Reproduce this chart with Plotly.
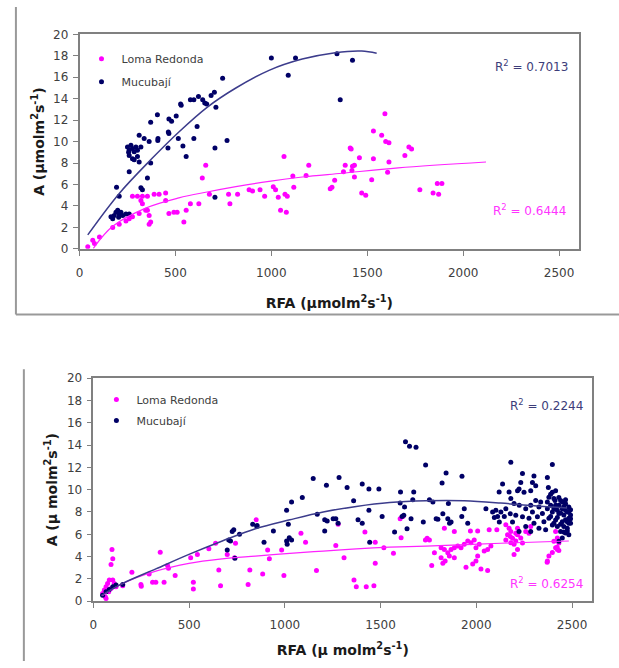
import plotly.graph_objects as go

# ---------------- DATA ----------------
# Top chart
top_mucu_x = [620, 596, 653, 527, 578, 642, 406, 371, 466, 480, 504, 311, 337, 363, 409, 408,
              463, 515, 596, 539, 556, 613, 461, 250, 259, 268, 276, 285, 294, 302, 259, 276,
              285, 302, 311, 320, 256, 259, 354, 371, 320, 328, 193, 207, 164, 181, 190, 199,
              207, 216, 225, 242, 259, 173, 204, 746, 686, 703, 663, 711, 769, 706, 706, 1000,
              1126, 1088, 1342, 1423, 1359, 530, 466]
top_mucu_y = [14.2, 13.9, 13.6, 13.5, 13.9, 13.9, 12.5, 11.8, 12.1, 11.9, 12.4, 10.6, 10.3, 10.0,
              10.3, 10.1, 10.9, 10.3, 10.3, 9.6, 8.6, 11.4, 9.4, 9.5, 9.2, 9.65, 9.35, 9.05, 9.5,
              9.2, 8.7, 8.4, 8.3, 8.6, 8.1, 9.5, 9.0, 7.2, 6.6, 8.0, 5.7, 5.5, 5.75, 4.9, 3.0,
              3.1, 3.4, 3.6, 3.25, 3.4, 3.1, 3.25, 3.25, 2.8, 2.95, 15.9, 14.3, 14.6, 13.5, 13.2,
              10.1, 9.4, 4.8, 17.8, 17.8, 16.2, 18.2, 17.6, 13.9, 13.4, 10.75]

top_loma_x = [43, 69, 104, 78, 173, 207, 242, 259, 276, 311, 345, 363, 276, 302, 328, 354, 389,
              415, 449, 320, 328, 354, 363, 371, 449, 492, 509, 544, 556, 578, 622, 658, 640, 466,
              1066, 1195, 1112, 1181, 1330, 1307, 1117, 677, 777, 824, 884, 902, 941, 965, 1010,
              1022, 1036, 1071, 1083, 784, 1048, 1078,
              1592, 1532, 1575, 1596, 1613, 1411, 1416, 1717, 1731, 1696, 1459, 1532, 1613, 1385,
              1423, 1433, 1376, 1420, 1606, 1316, 1433, 1523, 1471, 1492, 1774, 1843, 1872, 1865,
              1889]
top_loma_y = [0.2, 0.8, 1.1, 0.5, 2.0, 2.3, 2.6, 2.8, 3.0, 3.3, 3.6, 3.1, 4.9, 4.9, 4.9, 4.9, 5.1,
              5.1, 5.2, 4.5, 4.2, 3.6, 2.3, 2.5, 4.5, 3.4, 3.4, 2.5, 3.6, 4.2, 4.2, 7.8, 6.6, 3.3,
              8.6, 7.8, 6.8, 6.85, 6.4, 5.6, 5.75, 5.1, 5.1, 5.1, 5.5, 5.4, 5.5, 4.9, 5.8,
              5.5, 4.8, 5.1, 4.9, 4.2, 3.6, 3.4,
              12.6, 11.0, 10.6, 10.0, 9.9, 9.4, 9.3, 9.5, 9.3, 8.7, 8.5, 8.4, 8.1, 7.8,
              7.7, 7.8, 7.2, 7.3, 7.15, 5.75, 6.7, 6.45, 5.2, 5.0, 5.5, 5.2, 5.1, 6.1,
              6.1]

# trend lines
top_mucu_trend_x = [43, 204, 371, 518, 665, 815, 988, 1161, 1333, 1471, 1549]
top_mucu_trend_y = [1.3, 5.1, 8.3, 10.9, 13.2, 15.0, 16.65, 17.7, 18.3, 18.45, 18.25]
top_loma_trend_x = [72, 173, 345, 518, 665, 815, 988, 1161, 1368, 1661, 2119]
top_loma_trend_y = [0.05, 2.1, 3.8, 4.75, 5.3, 5.8, 6.3, 6.7, 7.05, 7.55, 8.1]

# Bottom chart
bot_mucu_x = [48, 66, 83, 101, 118, 153, 699, 707, 716, 725, 733, 763, 739, 832, 855,
              853, 891, 940, 1009, 1035, 1091, 1018, 1009, 1023, 1035, 1012, 1148, 1169, 1208,
              1221, 1252, 1266, 1278, 1208, 1217, 1283, 1325, 1359, 1382, 1404, 1404, 1439, 1491,
              1439, 1443, 1508, 1573, 1630, 1651, 1685, 1604, 1673, 1668, 1612, 1621, 1659, 1638,
              1723, 1735, 1602, 1625,
              1821, 1842, 1925, 2180, 1755, 1773, 1854, 1790, 1799, 1825, 1851, 1868, 1860,
              1937, 1924, 1955, 2050, 2085, 2102, 2128, 2111, 2094, 2120, 2137, 2171, 2119, 2180,
              2197, 2215, 2224, 2154, 2177, 2146, 2206, 2189,
              2397, 2301, 2293, 2241, 2232, 2284, 2310, 2249, 2223, 2371,
              2376, 2414, 2397, 2379, 2411, 2440, 2449, 2466, 2431, 2371, 2388, 2405, 2423, 2449,
              2466, 2483, 2371, 2397, 2431, 2457, 2483, 2379, 2414, 2449, 2475, 2492, 2397, 2423,
              2457, 2475, 2440, 2466, 2483, 2449, 2431, 2310, 2336, 2284, 2327, 2258, 2293, 2345,
              2241, 2275, 2319, 2353, 2301, 2258, 2327, 2284, 2362, 2223, 2483, 2492,
              2388, 2405, 2423, 2440, 2457, 2475, 2492, 2466, 2440, 2414, 2431, 2466, 2483, 2475,
              2492, 2457, 2388, 2405]
bot_mucu_y = [0.55, 0.85, 1.05, 1.3, 1.45, 1.5, 4.6, 5.5, 5.4, 6.25, 6.4, 6.0, 3.85, 6.9, 6.8,
              6.7, 5.3, 6.3, 8.15, 8.9, 9.3, 6.9, 5.4, 5.7, 5.5, 5.1, 11.0, 7.8, 7.3,
              7.2, 7.4, 7.4, 7.0, 6.3, 10.4, 11.1, 10.2, 9.0, 7.3, 7.0, 10.5, 10.05, 10.05,
              8.15, 5.3, 7.6, 6.2, 14.3, 13.9, 13.8, 9.8, 9.8, 9.1, 7.6, 7.7, 7.4, 6.5,
              7.1, 12.2, 8.8, 8.45,
              10.6, 11.5, 11.2, 12.45, 9.1, 8.9, 8.75, 7.4, 7.35, 7.85, 7.4, 7.1, 7.0,
              8.3, 7.6, 7.0, 8.3, 8.0, 8.15, 8.0, 7.6, 7.5, 7.1, 10.5, 9.8, 9.8, 9.2,
              8.75, 9.9, 8.6, 8.3, 7.85, 7.6, 7.7, 7.1,
              12.25, 11.23, 10.64, 11.46, 10.64, 9.91, 10.35, 9.77, 10.06, 11.08,
              10.2, 9.9, 9.77, 9.33, 9.04, 9.04, 8.89, 8.74, 8.6, 8.89, 8.6, 8.3, 8.16, 8.3,
              8.16, 8.0, 8.3, 8.0, 7.87, 7.72, 7.43, 7.43, 7.28, 7.13, 7.13, 6.99, 6.84, 6.7,
              6.7, 6.55, 6.26, 6.11, 5.96, 5.67, 5.38, 9.04, 8.89, 8.6, 8.45, 8.3, 8.0, 7.87,
              7.57, 7.43, 7.57, 7.13, 6.99, 6.7, 6.55, 6.26, 6.4, 6.26, 8.45, 7.72,
              7.6, 7.0, 7.5, 7.9, 8.5, 8.0, 8.2, 7.3, 6.9, 8.6, 9.3, 9.1, 7.0, 6.3,
              7.4, 6.2, 9.6, 9.2]

bot_loma_x = [97, 101, 92, 48, 57, 66, 74, 83, 101, 109, 92, 80, 62, 118, 66, 153, 201, 248, 250,
              291, 309, 326, 369, 349, 392, 387, 427, 508, 543, 522, 522, 603, 638, 655, 664, 699,
              742, 737, 808, 817, 850,
              910, 919, 884, 995, 983, 1084, 1108, 1165, 1266, 1278, 1309, 1361, 1373, 1425, 1465,
              1418, 1472, 1472, 1517, 1567, 1607, 1602, 1616, 1734,
              1833, 1885, 1969, 2007, 2067, 2107, 1743, 1755, 1781, 1816, 1833, 1851, 1868, 1885,
              1903, 1920, 1937, 1955, 1972, 1989, 1998, 2015, 2041, 2059, 2076, 1816, 1837, 1859,
              1885, 1825, 1767, 1946, 1981, 1998, 2007, 2024, 2059, 2154, 2171, 2180, 2163, 2189,
              2206, 2154, 2206, 2180, 2197, 2215, 2177, 2215, 2197,
              2215, 2232, 2258, 2241, 2284, 2275, 2414, 2423, 2405, 2431, 2414, 2397, 2379, 2371,
              2423, 2370, 2422, 2431]
bot_loma_y = [4.65, 3.8, 3.3, 0.7, 1.0, 1.3, 1.6, 1.9, 1.9, 1.6, 1.15, 0.85, 0.4, 1.3, 0.26, 1.4,
              2.6, 1.5, 1.35, 2.45, 1.7, 1.7, 1.7, 4.4, 2.95, 3.2, 2.3, 3.9, 4.2, 1.7, 1.1, 4.7,
              5.2, 2.8, 1.4, 4.2, 5.2, 3.9, 1.5, 2.8, 7.3,
              4.6, 3.8, 2.45, 2.3, 4.6, 6.1, 5.3, 2.75, 5.0, 6.9, 3.9, 1.9, 1.3, 1.3, 1.4,
              6.2, 5.3, 3.4, 4.8, 4.3, 5.7, 7.4, 7.6, 5.5,
              6.55, 6.25, 6.3, 6.3, 6.4, 6.4, 5.65, 5.5, 4.35, 4.8, 4.65, 4.35, 4.65, 4.8,
              4.95, 4.8, 5.1, 5.4, 5.25, 5.5, 4.8, 5.1, 4.5, 4.65, 4.95, 3.9, 3.6, 4.05,
              3.9, 3.4, 3.2, 3.05, 3.35, 3.6, 4.05, 2.9, 2.75, 6.85, 6.55, 6.25, 5.95, 5.65,
              6.1, 5.5, 5.4, 5.25, 5.1, 6.55, 5.8, 4.65, 4.2,
              5.96, 5.67, 6.26, 5.23, 6.7, 6.1, 6.26, 5.67, 5.38, 5.23, 4.8, 4.36, 4.06, 3.6,
              4.65, 3.5, 4.85, 4.55]

bot_mucu_trend_x = [40, 153, 326, 499, 673, 846, 1026, 1200, 1373, 1547, 1737, 1937, 2127, 2301, 2474]
bot_mucu_trend_y = [0.5, 1.6, 2.9, 4.2, 5.4, 6.5, 7.3, 8.0, 8.5, 8.85, 9.0, 9.0, 8.8, 8.55, 8.35]
bot_loma_trend_x = [45, 153, 326, 499, 673, 846, 1026, 1200, 1373, 1547, 1737, 2127, 2483]
bot_loma_trend_y = [0.5, 1.6, 2.7, 3.4, 3.8, 4.05, 4.3, 4.5, 4.7, 4.85, 4.95, 5.2, 5.4]

series_names = ["Loma Redonda", "Mucubají"]
r2_top = ["R<sup>2</sup> = 0.7013", "R<sup>2</sup> = 0.6444"]
r2_bot = ["R<sup>2</sup> = 0.2244", "R<sup>2</sup> = 0.6254"]
x_ticks = [0, 500, 1000, 1500, 2000, 2500]
y_ticks = [0, 2, 4, 6, 8, 10, 12, 14, 16, 18, 20]

# ---------------- STYLE ----------------
W, H = 619, 668
NAVY = "#000066"
PINK = "#FF00FF"
NAVY_LINE = "#3c3c8c"
PINK_LINE = "#FF22FF"
FONT = "DejaVu Sans"
GRAY = "#808080"


def px(p):
    return p / W


def py(p):
    return 1 - p / H


fig = go.Figure()


def add_panel(xa, ya, leg, loma_x, loma_y, mucu_x, mucu_y, lt_x, lt_y, mt_x, mt_y):
    fig.add_trace(go.Scatter(x=loma_x, y=loma_y, mode="markers", name=series_names[0],
                             marker=dict(color=PINK, size=5), xaxis=xa, yaxis=ya,
                             legend=leg, legendgroup=leg + "a"))
    fig.add_trace(go.Scatter(x=mucu_x, y=mucu_y, mode="markers", name=series_names[1],
                             marker=dict(color=NAVY, size=5), xaxis=xa, yaxis=ya,
                             legend=leg, legendgroup=leg + "b"))
    fig.add_trace(go.Scatter(x=lt_x, y=lt_y, mode="lines", showlegend=False, hoverinfo="skip",
                             line=dict(color=PINK_LINE, width=1.2, shape="spline"),
                             xaxis=xa, yaxis=ya))
    fig.add_trace(go.Scatter(x=mt_x, y=mt_y, mode="lines", showlegend=False, hoverinfo="skip",
                             line=dict(color=NAVY_LINE, width=1.5, shape="spline"),
                             xaxis=xa, yaxis=ya))


add_panel("x", "y", "legend", top_loma_x, top_loma_y, top_mucu_x, top_mucu_y,
          top_loma_trend_x, top_loma_trend_y, top_mucu_trend_x, top_mucu_trend_y)
add_panel("x2", "y2", "legend2", bot_loma_x, bot_loma_y, bot_mucu_x, bot_mucu_y,
          bot_loma_trend_x, bot_loma_trend_y, bot_mucu_trend_x, bot_mucu_trend_y)

tickfont = dict(family=FONT, size=12, color="#404040")
titlefont = dict(family=FONT, size=14, color="#1a1a1a", weight="bold")


def xaxis(domain, anchor, title, standoff):
    return dict(domain=domain, anchor=anchor, range=[0, 2605], tickvals=x_ticks,
                ticks="outside", ticklen=5, tickcolor=GRAY, tickwidth=1,
                showline=True, linecolor=GRAY, linewidth=1.5, mirror=True,
                showgrid=False, zeroline=False, tickfont=tickfont, ticklabelstandoff=7,
                title=dict(text=title, font=titlefont, standoff=standoff), fixedrange=True)


def yaxis(domain, anchor, title, standoff):
    return dict(domain=domain, anchor=anchor, range=[0, 20], tickvals=y_ticks,
                ticks="outside", ticklen=5, tickcolor=GRAY, tickwidth=1,
                showline=True, linecolor=GRAY, linewidth=1.5, mirror=True,
                showgrid=False, zeroline=False, tickfont=tickfont, ticklabelstandoff=2,
                title=dict(text=title, font=titlefont, standoff=standoff), fixedrange=True)


legfont = dict(family=FONT, size=11, color="#404040")

fig.update_layout(
    width=W, height=H, autosize=False,
    margin=dict(l=0, r=0, t=0, b=0),
    paper_bgcolor="white", plot_bgcolor="white",
    showlegend=True,
    xaxis=xaxis([px(76), px(579)], "y", "RFA (µmolm<sup>2</sup>s<sup>-1</sup>)", 19),
    yaxis=yaxis([py(247), py(28)], "x", "A (µmolm<sup>2</sup>s<sup>-1</sup>)", 5),
    xaxis2=xaxis([px(90), px(592)], "y2", "RFA (µ molm<sup>2</sup>s<sup>-1</sup>)", 14),
    yaxis2=yaxis([py(607), py(379)], "x2", "A (µ molm<sup>2</sup>s<sup>-1</sup>)", 6),
    legend=dict(x=px(78), y=py(38), xanchor="left", yanchor="top", bgcolor="rgba(0,0,0,0)",
                font=legfont, traceorder="grouped", tracegroupgap=4, itemwidth=30),
    legend2=dict(x=px(93), y=py(386), xanchor="left", yanchor="top", bgcolor="rgba(0,0,0,0)",
                 font=legfont, traceorder="grouped", tracegroupgap=2, itemwidth=30),
    annotations=[
        dict(text=r2_top[0], xref="paper", yref="paper", x=px(570), y=py(60), xanchor="right",
             yanchor="middle", showarrow=False, font=dict(family=FONT, size=12, color="#3d3d7a")),
        dict(text=r2_top[1], xref="paper", yref="paper", x=px(568), y=py(207), xanchor="right",
             yanchor="middle", showarrow=False, font=dict(family=FONT, size=12, color="#FF33FF")),
        dict(text=r2_bot[0], xref="paper", yref="paper", x=px(585), y=py(407), xanchor="right",
             yanchor="middle", showarrow=False, font=dict(family=FONT, size=12, color="#3d3d7a")),
        dict(text=r2_bot[1], xref="paper", yref="paper", x=px(585), y=py(588), xanchor="right",
             yanchor="middle", showarrow=False, font=dict(family=FONT, size=12, color="#FF33FF")),
    ],
    shapes=[
        dict(type="line", xref="paper", yref="paper", x0=px(12), x1=px(12), y0=1, y1=py(314),
             line=dict(color="#999999", width=2)),
        dict(type="line", xref="paper", yref="paper", x0=px(12), x1=1, y0=py(314), y1=py(314),
             line=dict(color="#999999", width=2)),
        dict(type="line", xref="paper", yref="paper", x0=px(20), x1=px(20), y0=py(370), y1=0,
             line=dict(color="#999999", width=2)),
    ],
)

fig.write_html("out.html",
               post_script="document.body.style.margin='0';document.body.style.padding='0';")
